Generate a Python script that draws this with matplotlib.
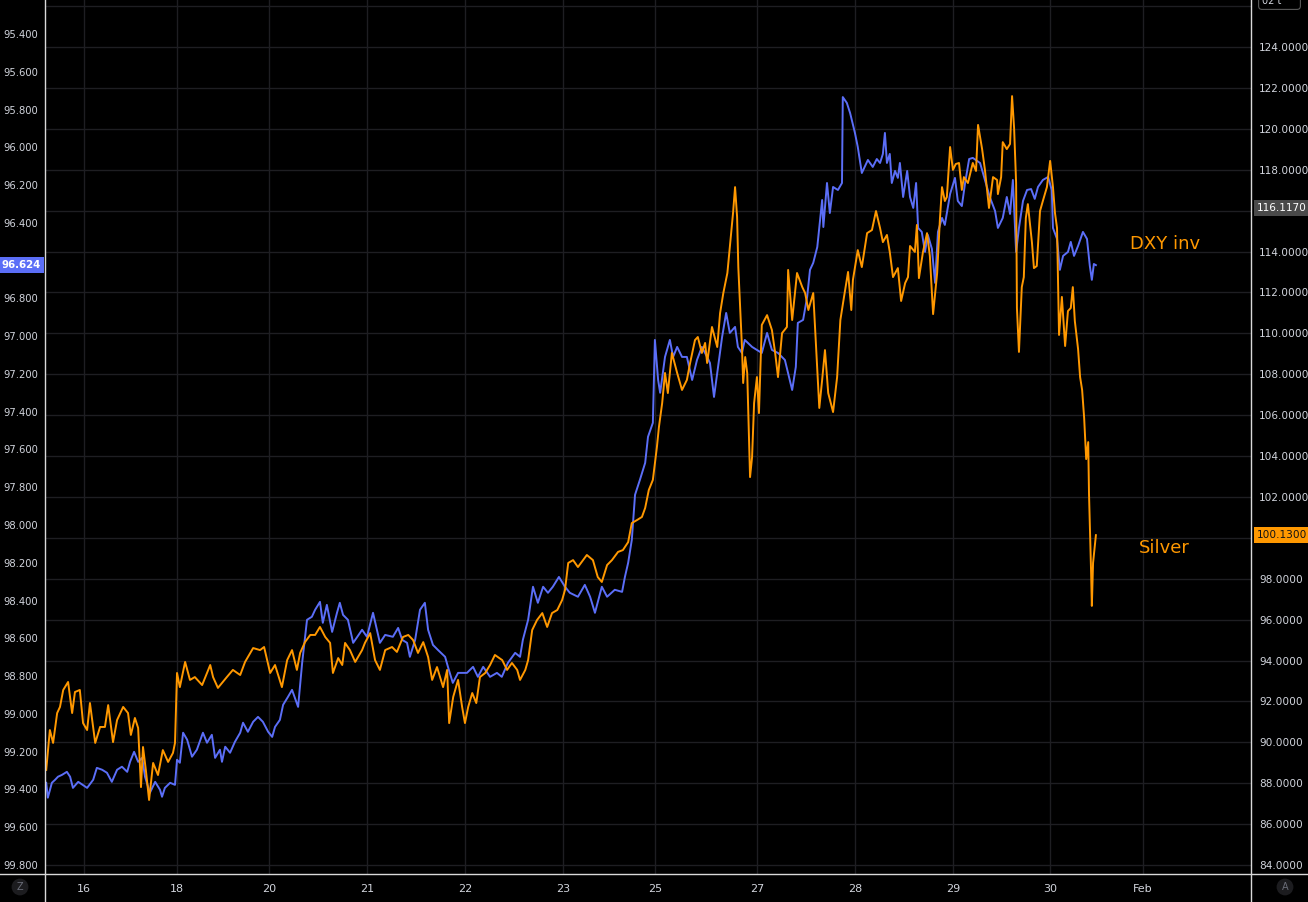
import numpy as np
import matplotlib
matplotlib.use("Agg")
import matplotlib.pyplot as plt
import matplotlib.transforms as mtransforms
from matplotlib.lines import Line2D
from matplotlib.ticker import FormatStrFormatter

# trading hours since the start of the window (weekends collapsed)
dxy_hours = [-0.2, 0.2, 1.2, 2.0, 2.7, 3.7, 4.9, 5.7, 6.4, 7.7, 9.9, 11.4, 12.3, 13.6, 14.8, 16.0, 17.3, 18.5,
             19.8, 20.5, 21.5, 22.5, 23.5, 24.2, 25.4, 26.7, 27.9, 28.4, 29.1, 30.4, 31.6, 32.1, 32.8, 33.6,
             34.6, 35.8, 37.0, 38.5, 39.5, 40.7, 41.5, 42.7, 43.2, 44.0, 45.2, 46.4, 47.7, 48.4, 49.6, 50.9,
             52.1, 53.3, 54.6, 55.6, 56.3, 57.5, 58.3, 59.5, 60.5, 61.2, 62.0, 63.0, 64.2, 65.4, 66.2, 67.4,
             68.1, 69.1, 70.4, 71.6,
             72.3, 73.1, 74.3, 75.6, 77.8, 79.0, 80.5, 82.2, 83.5, 85.4, 86.7, 87.7, 88.9, 89.6, 90.9, 92.1,
             93.3, 94.1, 95.3, 96.5, 98.3, 99.0, 100.2, 101.5, 103.7, 105.2, 106.4, 107.7, 109.4, 111.1, 112.3,
             113.8, 115.6, 116.8, 117.5, 118.8, 120.0, 121.2, 122.5, 123.7, 124.9, 126.4, 127.9, 129.1, 131.1,
             132.8, 134.1, 135.3, 137.0, 138.3, 140.2, 142.0, 142.7, 143.5, 144.4, 145.2, 146.4, 147.7, 148.4,
             149.6, 150.1,
             150.9, 151.4, 152.6, 153.8, 154.6, 155.6, 156.8, 158.0, 159.3, 160.5, 161.7, 163.0, 163.7, 164.7,
             165.7, 166.7, 167.7, 168.6, 169.9, 170.6, 171.6, 172.3, 174.1, 175.3, 176.5, 177.8, 179.0, 180.5,
             182.2, 184.0, 184.9, 185.4, 186.7, 187.7, 188.4, 189.2, 190.2, 190.9, 191.4, 191.7, 192.6, 193.3,
             194.1, 195.3, 196.3, 196.5, 197.5, 198.3, 199.5, 200.2, 201.2, 202.7, 203.9,
             204.9, 205.7, 206.4, 206.9, 207.4, 208.1, 208.6, 209.4, 210.1, 210.6, 211.4, 212.4, 213.1, 213.9,
             214.6, 215.1, 216.0, 216.8, 217.5, 218.5, 219.3, 220.0, 221.0, 221.7, 223.0, 224.2, 224.9, 225.9,
             226.7, 227.7, 228.6, 230.4, 231.6, 232.8, 234.1, 234.8, 236.0, 237.0, 237.8, 238.5, 239.3, 240.0,
             241.0, 242.0, 243.0, 243.9, 244.7, 245.9, 247.2, 248.1, 248.4, 249.4, 250.1, 250.9, 252.1, 252.8,
             253.6, 254.6, 255.8, 256.8, 257.5, 258.0, 258.5, 259.0]
dxy_vals = [99.365, 99.444, 99.365, 99.349, 99.333, 99.323, 99.307, 99.333, 99.392, 99.360, 99.392, 99.349,
            99.286, 99.296, 99.312, 99.360, 99.296, 99.280, 99.307, 99.254, 99.201, 99.254, 99.233, 99.333,
            99.418, 99.360, 99.402, 99.439, 99.392, 99.365, 99.376, 99.243, 99.259, 99.100, 99.137, 99.227,
            99.190, 99.100, 99.153, 99.111, 99.233, 99.190, 99.254, 99.174, 99.206, 99.148, 99.100, 99.047,
            99.095, 99.042, 99.016, 99.042, 99.095, 99.122, 99.069, 99.032, 98.952, 98.910, 98.873, 98.915,
            98.963, 98.730, 98.502, 98.486, 98.449, 98.407, 98.518, 98.423, 98.566, 98.465,
            98.412, 98.476, 98.502, 98.624, 98.555, 98.592, 98.465, 98.624, 98.582, 98.592, 98.545, 98.608,
            98.624, 98.698, 98.608, 98.449, 98.412, 98.555, 98.635, 98.661, 98.698, 98.751, 98.836, 98.783,
            98.783, 98.751, 98.804, 98.751, 98.804, 98.783, 98.804, 98.730, 98.677, 98.698, 98.608, 98.502,
            98.327, 98.412, 98.327, 98.359, 98.327, 98.275, 98.327, 98.359, 98.380, 98.317, 98.380, 98.465,
            98.327, 98.380, 98.343, 98.354, 98.275, 98.200, 98.079, 97.840, 97.761, 97.671, 97.533, 97.459,
            97.020,
            97.232, 97.300, 97.110, 97.020, 97.110, 97.057, 97.110, 97.110, 97.232, 97.126, 97.057, 97.110,
            97.142, 97.322, 97.163, 97.004, 96.877, 96.983, 96.951, 97.057, 97.089, 97.020, 97.057, 97.073,
            97.089, 96.983, 97.073, 97.089, 97.126, 97.285, 97.163, 96.930, 96.914, 96.792, 96.649, 96.612,
            96.528, 96.385, 96.279, 96.422, 96.189, 96.348, 96.210, 96.226, 96.189, 95.734, 95.765, 95.818,
            95.924, 95.998, 96.136, 96.067, 96.104,
            96.062, 96.083, 96.035, 95.924, 96.083, 96.035, 96.189, 96.125, 96.162, 96.083, 96.263, 96.125,
            96.263, 96.321, 96.189, 96.427, 96.448, 96.554, 96.464, 96.538, 96.718, 96.448, 96.374, 96.411,
            96.247, 96.162, 96.284, 96.311, 96.189, 96.062, 96.056, 96.083, 96.173, 96.263, 96.337, 96.427,
            96.374, 96.263, 96.353, 96.173, 96.554, 96.427, 96.284, 96.226, 96.221, 96.273, 96.210, 96.173,
            96.157, 96.226, 96.427, 96.485, 96.649, 96.575, 96.554, 96.501, 96.575, 96.522, 96.448, 96.485,
            96.628, 96.702, 96.618, 96.624]

silver_hours = [-0.2, 0.7, 1.5, 2.5, 3.2, 4.0, 5.2, 6.2, 6.9, 8.1, 8.9, 9.9, 10.6, 11.9, 13.1, 14.3, 15.1, 16.3,
                17.3, 18.8, 20.0, 20.7, 21.7, 22.5, 23.2, 23.7, 24.4, 25.2, 26.2, 27.4, 28.6, 29.9, 31.1, 31.6,
                32.1, 32.8, 34.1, 35.3, 36.5, 38.3, 40.3, 41.0, 42.2, 44.4, 45.9, 47.7, 48.9, 50.9, 52.6, 53.6,
                55.1, 56.3, 58.0, 59.3, 60.5, 61.7, 62.5, 63.7, 65.0, 66.2, 67.4, 68.7, 69.9, 70.6, 71.9,
                72.9, 73.6, 74.8, 76.1, 77.8, 78.5, 79.8, 81.0, 82.2, 83.5, 85.2, 86.4, 87.9, 89.2, 90.4, 91.6,
                92.9, 94.1, 95.1, 96.3, 97.8, 98.8, 99.3, 100.3, 101.5, 102.5, 103.2, 104.0, 105.0, 106.0, 106.9,
                108.2, 109.4, 110.6, 112.4, 113.6, 114.8, 116.1, 116.8, 118.1, 118.8, 119.8, 121.0, 122.3, 123.5,
                124.7, 126.0, 127.2, 127.9, 128.7, 129.9, 131.1, 133.3, 134.8, 136.0, 137.0, 138.3, 139.5, 141.0,
                142.2, 143.5, 144.4, 145.7, 146.9, 147.7, 148.6,
                149.6, 150.6, 151.1, 151.9, 152.6, 153.3, 154.3, 155.6, 156.8, 158.0, 158.8, 160.0, 160.7, 161.7,
                162.5, 163.0, 164.2, 165.5, 166.2, 167.0, 168.0, 168.7, 169.4, 169.9, 170.4, 170.7, 171.6, 171.9,
                172.4, 172.9, 173.6, 174.1, 174.6, 175.3, 175.8, 176.5, 177.8, 179.0, 179.8, 180.5, 181.5, 182.7,
                183.0, 184.0, 185.2, 186.5, 187.2, 188.0, 189.2, 190.2, 190.7, 191.4, 192.1, 192.9, 194.1, 195.1,
                195.9, 196.8, 197.8, 198.6, 199.0, 200.2, 201.2, 202.5, 203.7,
                204.7, 205.7, 206.4, 207.4, 208.1, 208.9, 210.1, 210.9, 211.9, 212.6, 213.1, 214.3, 214.8, 215.3,
                216.3, 217.3, 218.0, 218.8, 219.8, 220.5, 221.0, 221.7, 222.2, 223.0, 223.7, 224.4, 225.2, 225.9,
                226.4, 227.4, 228.6, 229.4, 229.9, 230.9, 231.6, 232.6, 233.6, 234.6, 234.8, 235.6, 236.0, 237.0,
                237.8, 238.3, 238.8, 239.3, 239.5, 240.0, 240.7, 241.2, 241.7, 242.2, 243.2, 243.7, 244.4, 245.2,
                245.9, 246.9, 247.7, 248.4, 248.9, 249.4, 249.9, 250.6, 251.4, 252.1, 252.8, 253.3, 253.8, 254.6,
                255.1, 255.6, 256.1, 256.6, 257.1, 257.3, 257.8, 258.0, 258.3, 259.0]
silver_vals = [88.65, 90.60, 89.97, 91.43, 91.73, 92.56, 92.95, 91.43, 92.46, 92.56, 90.94, 90.60, 91.92, 89.97,
               90.75, 90.75, 91.82, 90.01, 91.09, 91.73, 91.43, 90.36, 91.19, 90.70, 87.81, 89.77, 88.65, 87.18,
               88.99, 88.40, 89.62, 89.04, 89.48, 89.97, 93.39, 92.70, 93.93, 93.05, 93.19, 92.80, 93.78, 93.19,
               92.66, 93.19, 93.54, 93.29, 93.93, 94.61, 94.51, 94.66, 93.39, 93.78, 92.70, 94.02, 94.51, 93.54,
               94.37, 94.90, 95.25, 95.25, 95.64, 95.15, 94.86, 93.39, 94.12,
               93.78, 94.86, 94.51, 93.93, 94.51, 94.86, 95.34, 94.02, 93.54, 94.51, 94.66, 94.42, 95.15, 95.25,
               95.00, 94.37, 94.90, 94.17, 93.05, 93.68, 92.70, 93.54, 90.94, 92.22, 93.05, 91.73, 90.94, 91.73,
               92.41, 91.92, 93.19, 93.39, 93.78, 94.27, 94.02, 93.54, 93.88, 93.54, 93.05, 93.54, 94.02, 95.49,
               95.98, 96.32, 95.64, 96.32, 96.47, 96.96, 97.45, 98.77, 98.91, 98.57, 99.16, 98.91, 98.08, 97.84,
               98.67, 98.91, 99.31, 99.40, 99.79, 100.72, 100.87, 101.02, 101.46, 102.34,
               102.83, 104.44, 105.42, 106.59, 108.06, 107.08, 109.04, 108.06, 107.23, 107.72, 108.55, 109.67,
               109.82, 109.04, 109.53, 108.55, 110.31, 109.33, 110.99, 111.97, 112.95, 114.42, 115.88, 117.15,
               115.69, 113.24, 109.33, 107.57, 108.84, 108.06, 102.97, 103.95, 106.59, 107.86, 106.10, 110.41,
               110.89, 110.16, 109.04, 107.86, 110.01, 110.31, 113.10, 110.65, 112.95, 112.26, 111.97, 111.14,
               111.97, 108.21, 106.35, 107.72, 109.18, 107.08, 106.15, 107.86, 110.65, 111.78, 113.00, 111.14,
               112.61, 114.07, 113.24, 114.90, 115.05,
               115.98, 115.15, 114.46, 114.81, 113.98, 112.75, 113.19, 111.58, 112.46, 112.75, 114.27, 113.98,
               115.30, 112.70, 113.98, 114.90, 113.78, 110.94, 112.95, 115.64, 117.15, 116.47, 116.67, 119.11,
               117.99, 118.28, 118.33, 117.01, 117.64, 117.35, 118.33, 117.94, 120.19, 119.01, 117.99, 116.13,
               117.64, 117.50, 116.81, 117.64, 119.35, 119.01, 119.26, 121.60, 120.04, 117.35, 111.24, 109.09,
               112.26, 112.75, 115.64, 116.32, 114.46, 113.19, 113.29, 115.98, 116.47, 117.15, 118.43, 117.15,
               115.88, 115.15, 109.92, 111.78, 109.38, 111.09, 111.24, 112.26, 110.60, 109.23, 107.86, 107.23,
               105.86, 103.85, 104.68, 102.14, 98.43, 96.67, 98.77, 100.13]

day_hours = [9.1, 32.1, 54.8, 79.0, 103.2, 127.4, 150.1, 175.3, 199.5, 223.7, 247.7, 270.6]
day_labels = ["16", "18", "20", "21", "22", "23", "25", "27", "28", "29", "30", "Feb"]

dxy_ticks = np.round(np.arange(95.4, 99.81, 0.2), 1)
silver_ticks = np.arange(84, 125, 2)
silver_grid = np.arange(84, 127, 2)
silver_marker = 116.117   # grey level tag on the right scale

BLUE = "#5b6ef7"
ORANGE = "#ff9800"
TXT = "#d1d4dc"
GRID = "#1e1e22"
EDGE = "#d9d9d9"

W, H = 1308, 902
fig = plt.figure(figsize=(W / 100, H / 100), dpi=100, facecolor="black")
ax = fig.add_axes([45 / W, 28 / H, 1206 / W, 874 / H])
ax.set_facecolor("black")
ax2 = ax.twinx()

ax.set_xlim(-0.5, 297.3)
ax.set_ylim(99.848, 95.22)       # inverted dollar index
ax2.set_ylim(83.56, 126.3)

# horizontal grid follows the silver scale but sits under both lines
blend = mtransforms.blended_transform_factory(ax.transAxes, ax2.transData)
ax.hlines(silver_grid, 0, 1, transform=blend, colors=GRID, lw=1.0, zorder=0.5)
ax.set_xticks(day_hours)
ax.set_xticklabels(day_labels)
ax.grid(axis="x", color=GRID, lw=1.0, zorder=0.5)

ax.plot(dxy_hours, dxy_vals, color=BLUE, lw=1.4, zorder=2)
ax2.plot(silver_hours, silver_vals, color=ORANGE, lw=1.4, zorder=2)

ax.set_yticks(dxy_ticks)
ax.yaxis.set_major_formatter(FormatStrFormatter("%.3f"))
ax2.set_yticks(silver_ticks)
ax2.yaxis.set_major_formatter(FormatStrFormatter("%.4f"))

ax.tick_params(axis="y", length=0, pad=5, labelsize=7.2, labelcolor=TXT)
ax.tick_params(axis="x", length=0, pad=7, labelsize=8, labelcolor=TXT)
ax2.tick_params(axis="y", length=0, pad=6, labelsize=7.6, labelcolor=TXT)

for s in ["top", "right", "left", "bottom"]:
    ax.spines[s].set_visible(False)
    ax2.spines[s].set_visible(False)

# frame lines of the chart window
fig.add_artist(Line2D([45 / W, 45 / W], [0, 1], color=EDGE, lw=1.0))
fig.add_artist(Line2D([1251 / W, 1251 / W], [0, 1], color=EDGE, lw=1.0))
fig.add_artist(Line2D([0, 1], [28 / H, 28 / H], color=EDGE, lw=1.0))

# series names
ax.text(0.9, 0.721, "DXY inv", transform=ax.transAxes, color=ORANGE, fontsize=13,
        ha="left", va="center")
ax.text(0.907, 0.373, "Silver", transform=ax.transAxes, color=ORANGE, fontsize=13,
        ha="left", va="center")

# last-value tags
left_tr = mtransforms.blended_transform_factory(ax.transAxes, ax.transData)
ax.text(-0.0035, dxy_vals[-1], "%.3f" % dxy_vals[-1], transform=left_tr, ha="right", va="center",
        fontsize=7.4, color="white", fontweight="semibold", clip_on=False, zorder=5,
        bbox=dict(boxstyle="square,pad=0.3", fc=BLUE, ec="none"))
right_tr = mtransforms.blended_transform_factory(ax2.transAxes, ax2.transData)
ax2.text(1.005, silver_vals[-1], "%.4f" % silver_vals[-1], transform=right_tr, ha="left", va="center",
         fontsize=7.6, color="#131313", clip_on=False, zorder=5,
         bbox=dict(boxstyle="square,pad=0.3", fc=ORANGE, ec="none"))
ax2.text(1.005, silver_marker, "%.4f" % silver_marker, transform=right_tr, ha="left", va="center",
         fontsize=7.6, color="white", clip_on=False, zorder=5,
         bbox=dict(boxstyle="square,pad=0.3", fc="#4a4a4a", ec="none"))

# small corner widgets
fig.text(20 / W, 1 - 887 / H, "Z", color="#6a6d78", fontsize=7, ha="center", va="center",
         bbox=dict(boxstyle="circle,pad=0.35", fc="#1c1c1f", ec="none"))
fig.text(1285 / W, 1 - 887 / H, "A", color="#6a6d78", fontsize=7, ha="center", va="center",
         bbox=dict(boxstyle="circle,pad=0.35", fc="#1c1c1f", ec="none"))
fig.text(1262 / W, 1 - 1 / H, "02 t     ", color=TXT, fontsize=7, ha="left", va="center", zorder=10,
         bbox=dict(boxstyle="round,pad=0.35", fc="black", ec="#5a5a5a", lw=0.8))

fig.savefig("out.png", dpi=100, facecolor="black")
